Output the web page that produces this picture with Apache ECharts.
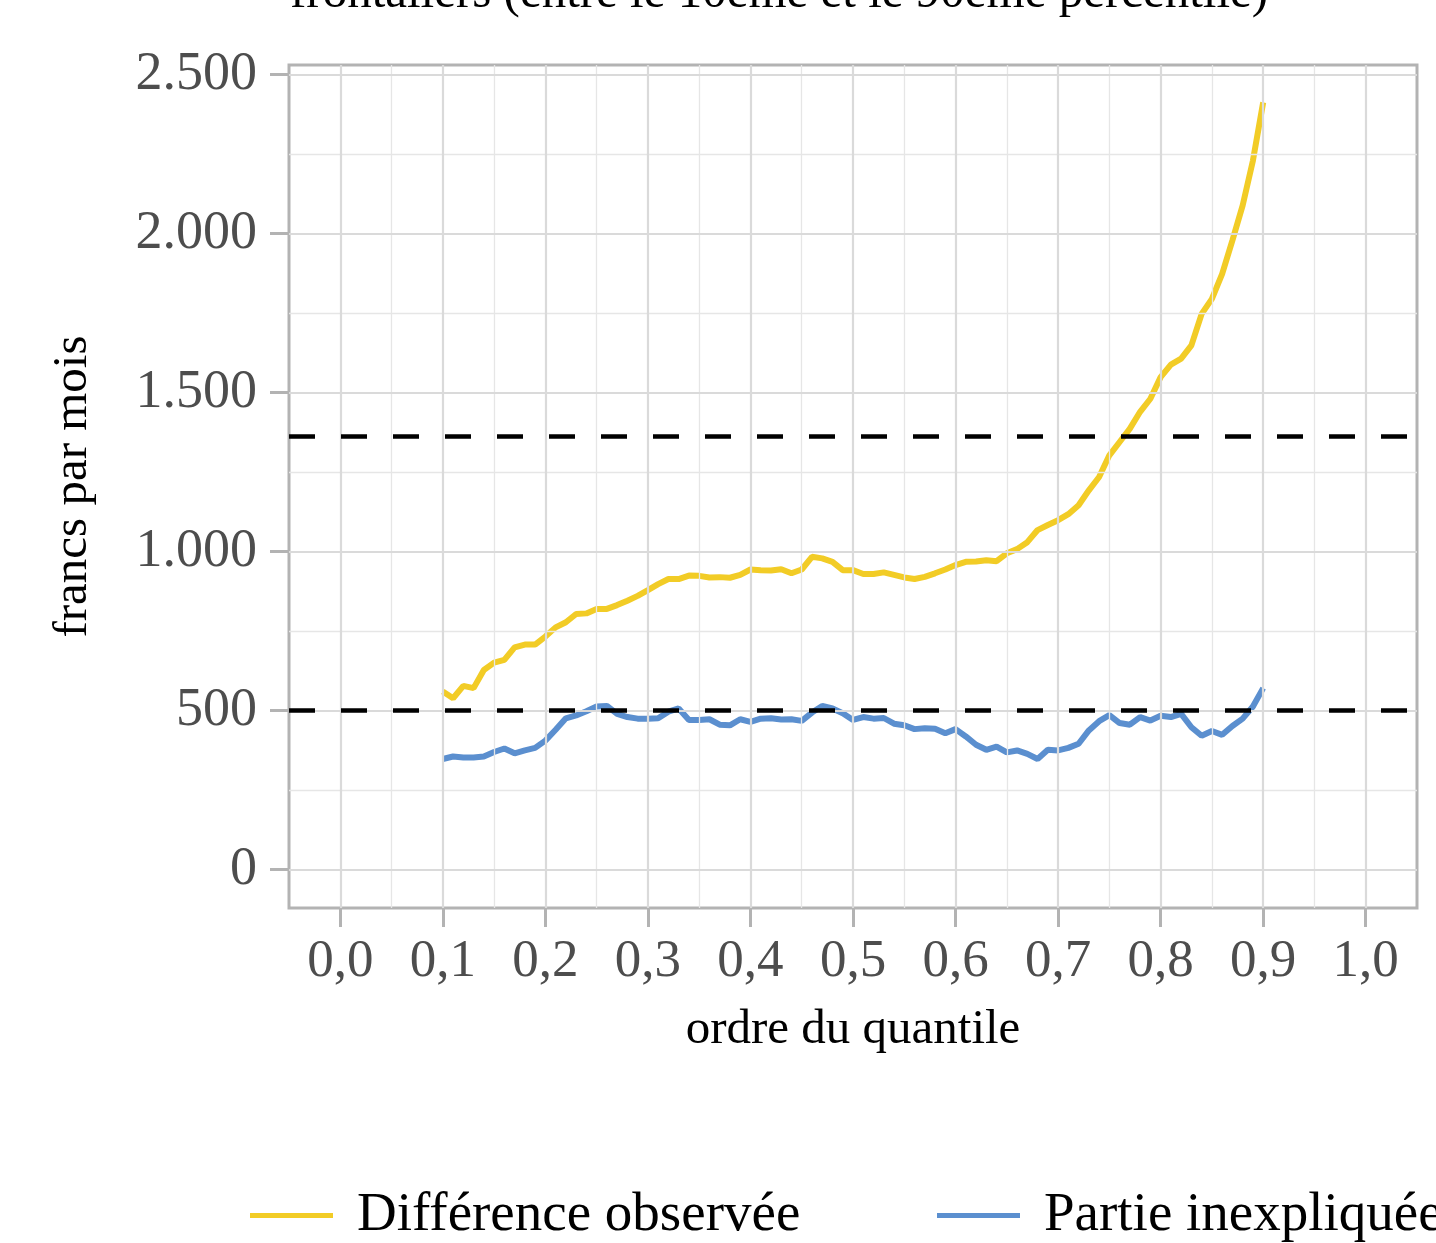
<!DOCTYPE html>
<html>
<head>
<meta charset="utf-8">
<script src="https://cdn.jsdelivr.net/npm/echarts@6/dist/echarts.min.js"></script>
<style>html,body{margin:0;padding:0;background:#fff;}#chart{width:1436px;height:1243px;}</style>
</head>
<body>
<div id="chart"></div>
<script>
var quantiles = [0.10,0.11,0.12,0.13,0.14,0.15,0.16,0.17,0.18,0.19,
  0.20,0.21,0.22,0.23,0.24,0.25,0.26,0.27,0.28,0.29,
  0.30,0.31,0.32,0.33,0.34,0.35,0.36,0.37,0.38,0.39,
  0.40,0.41,0.42,0.43,0.44,0.45,0.46,0.47,0.48,0.49,
  0.50,0.51,0.52,0.53,0.54,0.55,0.56,0.57,0.58,0.59,
  0.60,0.61,0.62,0.63,0.64,0.65,0.66,0.67,0.68,0.69,
  0.70,0.71,0.72,0.73,0.74,0.75,0.76,0.77,0.78,0.79,
  0.80,0.81,0.82,0.83,0.84,0.85,0.86,0.87,0.88,0.89,
  0.90];
var diffObservee = [560,539,578,571,628,651,660,699,708,708,
  733,762,778,804,806,820,820,832,846,861,
  879,898,914,914,925,924,919,920,918,927,
  944,942,941,945,932,944,984,979,968,942,
  942,930,930,935,927,919,914,921,932,944,
  958,968,969,973,970,995,1008,1030,1068,1084,
  1099,1118,1146,1193,1235,1303,1345,1387,1440,1481,
  1549,1588,1607,1649,1748,1795,1874,1979,2089,2230,
  2413];
var partieInexpliquee = [348,356,353,353,356,370,381,366,375,383,
  406,440,476,485,498,513,515,490,480,475,
  475,476,497,507,471,471,473,456,454,473,
  465,475,476,472,473,468,494,515,507,492,
  471,480,475,477,459,454,442,445,443,429,
  442,419,393,377,387,369,375,364,348,377,
  375,383,396,438,467,486,461,456,480,469,
  484,480,490,448,421,436,424,452,475,513,
  571];
var refLines = [500, 1363];
var xMajor = [0,0.1,0.2,0.3,0.4,0.5,0.6,0.7,0.8,0.9,1.0];
var xMinor = [0.05,0.15,0.25,0.35,0.45,0.55,0.65,0.75,0.85,0.95];
var yMajor = [0,500,1000,1500,2000,2500];
var yMinor = [250,750,1250,1750,2250];
var seriesNames = ['Différence observée', 'Partie inexpliquée'];
var titleText = 'frontaliers (entre le 10ème et le 90ème percentile)';
var xTitle = 'ordre du quantile';
var yTitle = 'francs par mois';

var FONT = "'Liberation Serif', 'DejaVu Serif', serif";
var colors = ['#F2CC26', '#5B8FCF'];

function pairs(ys) { return quantiles.map(function (q, i) { return [q, ys[i]]; }); }
function fmtY(v) { return v >= 1000 ? Math.floor(v / 1000) + '.' + String(v % 1000).padStart(3, '0') : String(v); }

var gridMarks = []
  .concat(xMinor.map(function (v) { return { xAxis: v, lineStyle: { color: '#e6e6e6', width: 1.3, type: 'solid' } }; }))
  .concat(yMinor.map(function (v) { return { yAxis: v, lineStyle: { color: '#e6e6e6', width: 1.3, type: 'solid' } }; }))
  .concat(xMajor.map(function (v) { return { xAxis: v, lineStyle: { color: '#dadada', width: 2.2, type: 'solid' } }; }))
  .concat(yMajor.map(function (v) { return { yAxis: v, lineStyle: { color: '#dadada', width: 2.2, type: 'solid' } }; }));

var chart = echarts.init(document.getElementById('chart'), null, { renderer: 'canvas' });
chart.setOption({
  animation: false,
  backgroundColor: '#ffffff',
  textStyle: { fontFamily: FONT },
  graphic: [{
    type: 'text', left: 290, top: -30,
    style: { text: titleText, font: "49px " + FONT, fill: '#000' }
  }],
  grid: { left: 289, right: 19, top: 65, bottom: 335, show: true, borderColor: '#b3b3b3', borderWidth: 3, backgroundColor: 'transparent' },
  xAxis: {
    type: 'value', min: -0.05, max: 1.05,
    axisLine: { show: false, onZero: false },
    splitLine: { show: false },
    axisTick: { show: true, length: 19, lineStyle: { color: '#b3b3b3', width: 3 }, customValues: xMajor },
    axisLabel: { customValues: xMajor, margin: 28, color: '#4d4d4d', fontSize: 53, fontFamily: FONT,
      formatter: function (v) { return v.toFixed(1).replace('.', ','); } },
    name: xTitle, nameLocation: 'middle', nameGap: 98,
    nameTextStyle: { color: '#000', fontSize: 49, fontFamily: FONT }
  },
  yAxis: {
    type: 'value', min: -120.5, max: 2530.5,
    axisLine: { show: false, onZero: false },
    splitLine: { show: false },
    axisTick: { show: true, length: 19, lineStyle: { color: '#b3b3b3', width: 3 }, customValues: yMajor },
    axisLabel: { customValues: yMajor, margin: 32, color: '#4d4d4d', fontSize: 54, fontFamily: FONT,
      formatter: function (v) { return fmtY(v); } },
    name: yTitle, nameLocation: 'middle', nameGap: 191, nameRotate: 90,
    nameTextStyle: { color: '#000', fontSize: 49, fontFamily: FONT }
  },
  legend: [
    { data: [{ name: seriesNames[0], icon: 'rect' }], left: 250, top: 1188, padding: 0, itemWidth: 83, itemHeight: 5,
      textStyle: { fontSize: 55, fontFamily: FONT, color: '#000', padding: [0, 0, 0, 19] } },
    { data: [{ name: seriesNames[1], icon: 'rect' }], left: 937, top: 1188, padding: 0, itemWidth: 83, itemHeight: 5,
      textStyle: { fontSize: 55, fontFamily: FONT, color: '#000', padding: [0, 0, 0, 19] } }
  ],
  series: [
    { name: 'grid', type: 'line', data: [], z: 1, silent: true,
      markLine: { silent: true, symbol: ['none', 'none'], label: { show: false }, animation: false, data: gridMarks } },
    { name: seriesNames[0], type: 'line', data: pairs(diffObservee), showSymbol: false, symbol: 'none', z: 3,
      lineStyle: { color: colors[0], width: 6 }, itemStyle: { color: colors[0] } },
    { name: seriesNames[1], type: 'line', data: pairs(partieInexpliquee), showSymbol: false, symbol: 'none', z: 3,
      lineStyle: { color: colors[1], width: 6 }, itemStyle: { color: colors[1] } },
    { name: 'refs', type: 'line', data: [], z: 5, silent: true,
      markLine: { silent: true, symbol: ['none', 'none'], label: { show: false }, animation: false,
        data: refLines.map(function (v) { return { yAxis: v, lineStyle: { color: '#000', width: 4.5, type: [26, 26] } }; }) } }
  ]
});
</script>
</body>
</html>
